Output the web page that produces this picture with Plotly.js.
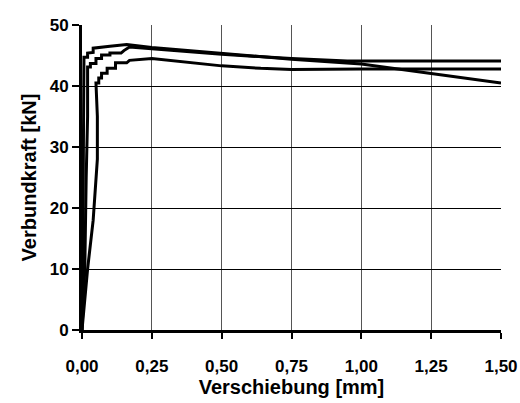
<!DOCTYPE html>
<html>
<head>
<meta charset="utf-8">
<script src="https://cdn.plot.ly/plotly-3.0.1.min.js"></script>
<style>html,body{margin:0;padding:0;background:#fff;}#chart{width:520px;height:403px;}</style>
</head>
<body>
<div id="chart"></div>
<script>
// Verschiebung [mm] / Verbundkraft [kN]
const curve1X = [0, 0.003, 0.005, 0.007, 0.02, 0.02, 0.04, 0.04, 0.10, 0.16, 0.25, 0.50, 0.75, 1.00, 1.25, 1.50];
const curve1Y = [0, 10, 30, 44.7, 44.7, 45.4, 45.5, 46.2, 46.5, 46.8, 46.3, 45.3, 44.4, 43.6, 42.0, 40.5];

const curve2X = [0, 0.01, 0.015, 0.02, 0.02, 0.03, 0.03, 0.05, 0.05, 0.07, 0.07, 0.10, 0.10, 0.14, 0.15, 0.17, 0.25, 0.50, 0.75, 0.95, 1.50];
const curve2Y = [0, 10, 25, 35, 43.1, 43.1, 43.7, 43.7, 44.5, 44.5, 45.1, 45.1, 45.4, 45.4, 45.8, 46.4, 46.1, 45.2, 44.5, 44.1, 44.1];

const curve3X = [0, 0.02, 0.04, 0.047, 0.055, 0.055, 0.05, 0.06, 0.06, 0.07, 0.07, 0.09, 0.09, 0.12, 0.12, 0.16, 0.17, 0.25, 0.42, 0.50, 0.64, 0.75, 1.00, 1.50];
const curve3Y = [0, 10, 18, 22, 28, 35, 40.5, 40.5, 41.3, 41.3, 42.1, 42.1, 42.9, 42.9, 43.8, 43.8, 44.2, 44.5, 43.7, 43.3, 42.9, 42.7, 42.8, 42.8];

const xTicks = [0, 0.25, 0.5, 0.75, 1.0, 1.25, 1.5];
const yTicks = [0, 10, 20, 30, 40, 50];

const lineStyle = {color: '#000', width: 3};
const data = [
  {x: curve1X, y: curve1Y, mode: 'lines', line: lineStyle, showlegend: false},
  {x: curve2X, y: curve2Y, mode: 'lines', line: lineStyle, showlegend: false},
  {x: curve3X, y: curve3Y, mode: 'lines', line: lineStyle, showlegend: false}
];

const tickFont = {family: 'Liberation Sans, Arial, sans-serif', size: 17, color: '#000', weight: 'bold'};
const titleFont = {family: 'Liberation Sans, Arial, sans-serif', size: 20, color: '#000', weight: 'bold'};

const layout = {
  width: 520, height: 403,
  margin: {l: 82, r: 19, t: 25, b: 73},
  paper_bgcolor: '#fff', plot_bgcolor: '#fff',
  separators: ',.',
  xaxis: {
    range: [0, 1.5], tickvals: xTicks, tickformat: '.2f',
    showline: true, linecolor: '#000', linewidth: 3,
    ticks: 'outside', ticklen: 6, tickwidth: 2, tickcolor: '#000',
    showgrid: true, gridcolor: '#555', gridwidth: 1,
    zeroline: false, tickfont: tickFont, ticklabelstandoff: 13,
    title: {text: 'Verschiebung [mm]', font: titleFont, standoff: 3}
  },
  yaxis: {
    range: [0, 50], tickvals: yTicks,
    showline: true, linecolor: '#000', linewidth: 3,
    ticks: 'outside', ticklen: 7, tickwidth: 2, tickcolor: '#000',
    showgrid: true, gridcolor: '#000', gridwidth: 1,
    zeroline: false, tickfont: tickFont,
    title: {text: 'Verbundkraft [kN]', font: titleFont, standoff: 8}
  }
};

Plotly.newPlot('chart', data, layout, {displayModeBar: false, staticPlot: true});
</script>
</body>
</html>
